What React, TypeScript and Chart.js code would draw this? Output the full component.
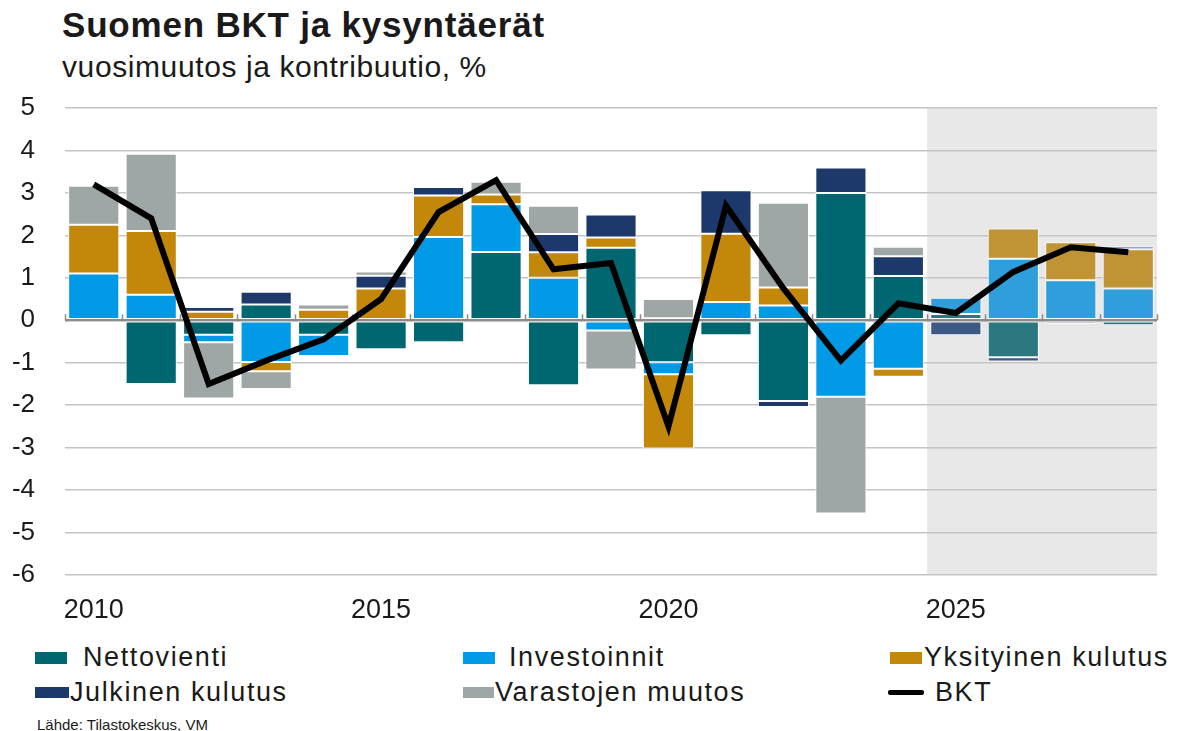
import React, { useEffect, useRef } from "react";
import { Chart, registerables } from "chart.js";

Chart.register(...registerables);

const years = ["2010","2011","2012","2013","2014","2015","2016","2017","2018","2019","2020","2021","2022","2023","2024","2025","2026","2027","2028"];
const shownYearLabels = ["2010", "2015", "2020", "2025"];
const forecastStart = "2025";

const nettovienti = [-0.05, -1.5, -0.34, 0.37, -0.34, -0.68, -0.52, 1.61, -1.53, 1.71, -0.99, -0.35, -1.9, 3.0, 1.04, 0.15, -0.87, 0, -0.12];
const investoinnit = [1.1, 0.6, -0.18, -0.98, -0.5, 0, 1.96, 1.12, 1.0, -0.24, -0.28, 0.43, 0.35, -1.8, -1.14, 0.38, 1.45, 0.94, 0.75];
const yksityinen = [1.15, 1.5, 0.2, -0.22, 0.25, 0.75, 0.98, 0.23, 0.6, 0.24, -1.75, 1.61, 0.42, 0, -0.19, 0, 0.71, 0.9, 0.92];
const julkinen = [0, 0, 0.11, 0.3, 0, 0.3, 0.2, 0, 0.43, 0.54, 0.05, 1.02, -0.14, 0.6, 0.47, -0.35, -0.1, -0.08, 0.07];
const varastot = [0.92, 1.82, -1.32, -0.42, 0.12, 0.1, 0, 0.3, 0.67, -0.92, 0.45, 0, 2.0, -2.75, 0.22, 0, 0, 0, 0];
const bkt = [3.2, 2.4, -1.5, -0.95, -0.45, 0.5, 2.55, 3.3, 1.2, 1.35, -2.5, 2.7, 0.75, -0.95, 0.4, 0.17, 1.14, 1.72, 1.6];

const yTicks = [5, 4, 3, 2, 1, 0, -1, -2, -3, -4, -5, -6];

const FONT = "'Liberation Sans', Arial, sans-serif";
const TEXT = "#1a1a1a";

const series = [
  { label: "Nettovienti", data: nettovienti, color: "#006670", fcColor: "#2b7880" },
  { label: "Investoinnit", data: investoinnit, color: "#009ae6", fcColor: "#2e9fda" },
  { label: "Yksityinen kulutus", data: yksityinen, color: "#c3880a", fcColor: "#c09434" },
  { label: "Julkinen kulutus", data: julkinen, color: "#1d396c", fcColor: "#3e5a84" },
  { label: "Varastojen muutos", data: varastot, color: "#9ea7a5", fcColor: "#a6adab" },
];

const forecastIndex = years.indexOf(forecastStart);

const shadePlugin = {
  id: "shade",
  beforeDraw(chart: any) {
    const { ctx, chartArea } = chart;
    const xs = chart.scales.x;
    const step = xs.getPixelForValue(1) - xs.getPixelForValue(0);
    const x0 = xs.getPixelForValue(forecastIndex) - step / 2;
    ctx.save();
    ctx.fillStyle = "#e8e8e8";
    ctx.fillRect(x0, chartArea.top, chartArea.right - x0, chartArea.bottom - chartArea.top);
    ctx.restore();
  },
  beforeDatasetsDraw(chart: any) {
    const { ctx, chartArea } = chart;
    const xs = chart.scales.x;
    const ys = chart.scales.y;
    const y0 = ys.getPixelForValue(0);
    const step = xs.getPixelForValue(1) - xs.getPixelForValue(0);
    ctx.save();
    ctx.strokeStyle = "#8c8c8c";
    ctx.lineWidth = 1.5;
    for (let i = 0; i <= years.length; i++) {
      const x = Math.round(chartArea.left + i * step) + 0.5;
      ctx.beginPath();
      ctx.moveTo(x, y0 - 6);
      ctx.lineTo(x, y0);
      ctx.stroke();
    }
    ctx.restore();
  },
};

export default function App() {
  const ref = useRef<HTMLCanvasElement | null>(null);

  useEffect(() => {
    if (!ref.current) return;
    const barSets = series.map((s) => ({
      type: "bar" as const,
      label: s.label,
      data: s.data,
      backgroundColor: years.map((_, i) => (i >= forecastIndex ? s.fcColor : s.color)),
      borderColor: "#ffffff",
      borderWidth: 1,
      borderSkipped: false,
      stack: "a",
      order: 2,
      categoryPercentage: 1,
      barPercentage: 0.89,
    }));
    const chart = new Chart(ref.current, {
      type: "bar",
      data: {
        labels: years,
        datasets: [
          ...barSets,
          {
            type: "line" as const,
            label: "BKT",
            data: bkt,
            borderColor: "#000000",
            backgroundColor: "#000000",
            borderWidth: 6,
            pointRadius: 0,
            tension: 0,
            stack: "line",
            order: 1,
          } as any,
        ],
      },
      options: {
        animation: false,
        responsive: false,
        maintainAspectRatio: false,
        layout: { padding: { top: 18, right: 28, left: 0, bottom: 0 } },
        plugins: { legend: { display: false }, tooltip: { enabled: false }, title: { display: false } },
        scales: {
          x: {
            stacked: true,
            grid: { display: false },
            border: { display: false },
            ticks: {
              autoSkip: false,
              maxRotation: 0,
              padding: 11,
              color: TEXT,
              font: { family: FONT, size: 27 },
              callback: (_v: any, i: number) => (shownYearLabels.includes(years[i]) ? years[i] : ""),
            },
            afterFit: (s: any) => { s.height = 60; s.paddingLeft = 0; s.paddingRight = 0; },
          },
          y: {
            stacked: true,
            min: -6,
            max: 5,
            afterBuildTicks: (s: any) => { s.ticks = yTicks.map((v) => ({ value: v })); },
            grid: {
              drawTicks: false,
              color: (c: any) => (c.tick && c.tick.value === 0 ? "#8c8c8c" : "#c4c4c4"),
              lineWidth: (c: any) => (c.tick && c.tick.value === 0 ? 2.5 : 1.5),
            },
            border: { display: false },
            ticks: {
              padding: 30,
              color: TEXT,
              font: { family: FONT, size: 26 },
            },
            afterFit: (s: any) => { s.width = 65; s.paddingTop = 0; s.paddingBottom = 0; },
          },
        },
      },
      plugins: [shadePlugin],
    });
    return () => chart.destroy();
  }, []);

  const abs = (o: React.CSSProperties): React.CSSProperties => ({ position: "absolute", margin: 0, lineHeight: 1, whiteSpace: "nowrap", fontFamily: FONT, color: TEXT, ...o });

  const legendFont: React.CSSProperties = { fontSize: 27, letterSpacing: "1.6px" };

  return (
    <div style={{ position: "absolute", left: 0, top: 0, width: 1185, height: 731, background: "#fff", overflow: "hidden" }}>
      <div style={abs({ left: 62, top: 7, fontSize: 35, fontWeight: "bold", letterSpacing: "0.8px" })}>Suomen BKT ja kysyntäerät</div>
      <div style={abs({ left: 62, top: 52, fontSize: 30, letterSpacing: "0.6px" })}>vuosimuutos ja kontribuutio, %</div>
      <canvas ref={ref} width={1185} height={545} style={{ position: "absolute", left: 0, top: 90, width: 1185, height: 545 }} />

      <div style={abs({ left: 35, top: 652, width: 32, height: 12, background: series[0].color })} />
      <div style={abs({ left: 83, top: 644, ...legendFont })}>{series[0].label}</div>
      <div style={abs({ left: 463, top: 652, width: 32, height: 12, background: series[1].color })} />
      <div style={abs({ left: 509, top: 644, ...legendFont })}>{series[1].label}</div>
      <div style={abs({ left: 890, top: 652, width: 32, height: 12, background: series[2].color })} />
      <div style={abs({ left: 924, top: 644, ...legendFont })}>{series[2].label}</div>

      <div style={abs({ left: 35, top: 687, width: 34, height: 11, background: series[3].color })} />
      <div style={abs({ left: 70, top: 679, ...legendFont })}>{series[3].label}</div>
      <div style={abs({ left: 463, top: 687, width: 31, height: 11, background: series[4].color })} />
      <div style={abs({ left: 495, top: 679, ...legendFont })}>{series[4].label}</div>
      <div style={abs({ left: 888, top: 690, width: 36, height: 5, background: "#000", borderRadius: 2 })} />
      <div style={abs({ left: 935, top: 679, ...legendFont })}>BKT</div>

      <div style={abs({ left: 37, top: 717, fontSize: 15 })}>Lähde: Tilastokeskus, VM</div>
    </div>
  );
}
